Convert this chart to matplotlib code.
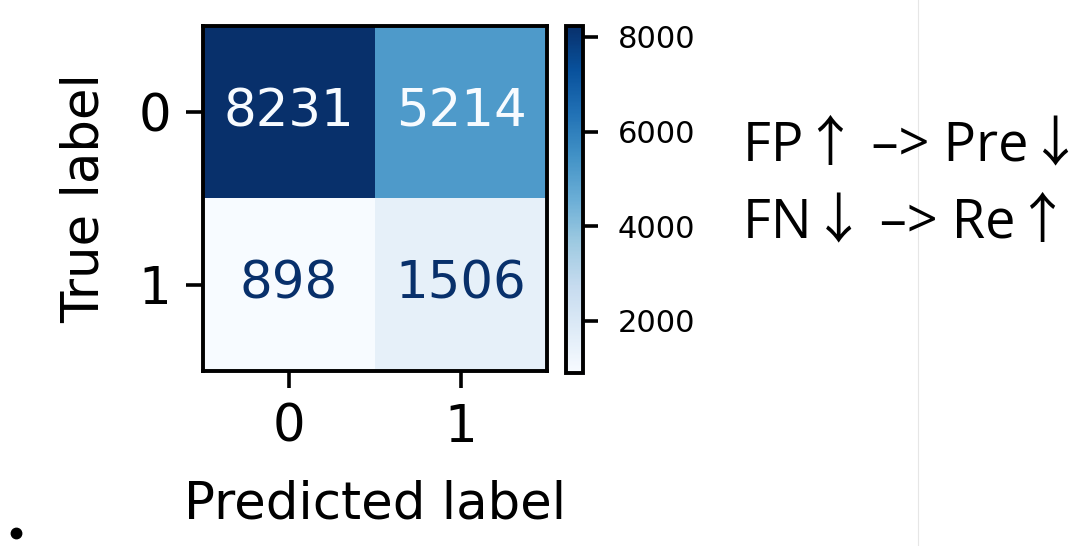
import matplotlib.pyplot as plt
import numpy as np

# confusion matrix counts (rows: true label, cols: predicted label)
class_labels = ["0", "1"]
cm_counts = [[8231, 5214],
             [898, 1506]]
cbar_ticks = [2000, 4000, 6000, 8000]
note_lines = ["FP\u2191 \u2013> Pre\u2193", "FN\u2193 \u2013> Re\u2191"]

W, H = 1075, 546
fig = plt.figure(figsize=(W / 100, H / 100), dpi=100)


def px_axes(x0, y0, x1, y1):
    return fig.add_axes([x0 / W, 1 - y1 / H, (x1 - x0) / W, (y1 - y0) / H])


cm = np.array(cm_counts)
cmap = plt.get_cmap("Blues")
vmin, vmax = cm.min(), cm.max()

ax = px_axes(203, 26, 547, 371)
im = ax.imshow(cm, cmap=cmap, vmin=vmin, vmax=vmax, interpolation="nearest", aspect="auto")

thresh = (vmax + vmin) / 2.0
for i in range(cm.shape[0]):
    for j in range(cm.shape[1]):
        color = cmap(0.0) if cm[i, j] > thresh else cmap(1.0)
        ax.text(j, i, f"{cm[i, j]}", ha="center", va="center", color=color, fontsize=37)

ax.set_xticks(range(len(class_labels)))
ax.set_yticks(range(len(class_labels)))
ax.set_xticklabels(class_labels, fontsize=37)
ax.set_yticklabels(class_labels, fontsize=37)
ax.set_xlabel("Predicted label", fontsize=37, labelpad=19)
ax.set_ylabel("True label", fontsize=37, labelpad=21)
ax.tick_params(length=12, width=2.6, pad=11)
for sp in ax.spines.values():
    sp.set_linewidth(2.8)

cax = px_axes(566, 26, 583, 373)
cb = fig.colorbar(im, cax=cax, ticks=cbar_ticks)
cb.ax.tick_params(labelsize=22, length=11, width=2.6, pad=14)
cb.outline.set_linewidth(2.8)

# slide annotation text
for k, line in enumerate(note_lines):
    fig.text(743 / W, 1 - (160 + 77 * k) / H, line, fontsize=39,
             family=["Open Sans", "Noto Sans CJK SC"], va="baseline", ha="left")

# thin divider and bullet
fig.add_artist(plt.Line2D([918 / W, 918 / W], [0, 1], color="#e6e6e6", lw=0.8))
fig.add_artist(plt.Line2D([16 / W], [1 - 533 / H], marker="o", markersize=7.5,
                          color="black", transform=fig.transFigure))

fig.savefig("out.png", dpi=100)
